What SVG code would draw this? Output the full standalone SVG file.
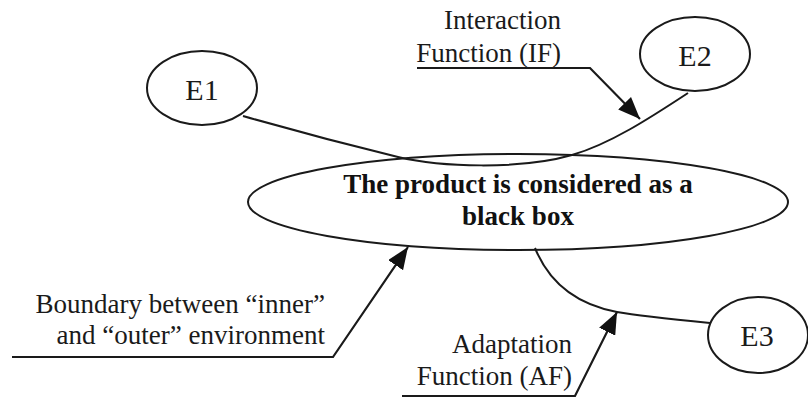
<svg xmlns="http://www.w3.org/2000/svg" width="808" height="402" viewBox="0 0 808 402">
  <defs>
    <style>
      .shape { fill: none; stroke: #1a1a1a; stroke-width: 2; }
      .node { fill: #ffffff; stroke: #1a1a1a; stroke-width: 2; }
      .lbl { font-family: "Times New Roman", "Liberation Serif", Tinos, serif; font-size: 27px; fill: #1a1a1a; }
      .ent { font-family: "Times New Roman", "Liberation Serif", Tinos, serif; font-size: 30px; fill: #1a1a1a; text-anchor: middle; }
      .bold { font-family: "Times New Roman", "Liberation Serif", Tinos, serif; font-size: 27px; font-weight: bold; fill: #111; text-anchor: middle; }
      .leader { fill: none; stroke: #1a1a1a; stroke-width: 2.2; }
    </style>
    <marker id="arrow" markerUnits="userSpaceOnUse" markerWidth="24" markerHeight="18" refX="22" refY="9" orient="auto">
      <path d="M0,0 L22,9 L0,18 z" fill="#111"/>
    </marker>
  </defs>
  <rect width="808" height="402" fill="#ffffff"/>

  <g id="product">
    <ellipse class="shape" cx="518" cy="202" rx="270" ry="48"/>
    <text class="bold" x="518" y="193">The product is considered as a</text>
    <text class="bold" x="518" y="225">black box</text>
  </g>

  <g id="connectors">
    <path class="shape" d="M243,116 Q320,138 398,157 C440,167 520,170 572,155 C610,144 650,118 688,93"/>
    <path class="shape" d="M535,248 C550,285 580,305 617,312 C640,316 680,320 710,323"/>
    <path class="leader" d="M417,68 L590,68 L640,119" marker-end="url(#arrow)"/>
    <path class="leader" d="M12,357 L333,357 L408,247" marker-end="url(#arrow)"/>
    <path class="leader" d="M402,396 L575,396 L617,312" marker-end="url(#arrow)"/>
  </g>

  <g id="E1">
    <ellipse class="node" cx="202" cy="88" rx="55" ry="37"/>
    <text class="ent" x="202" y="100">E1</text>
  </g>
  <g id="E2">
    <ellipse class="node" cx="695" cy="54" rx="55" ry="37"/>
    <text class="ent" x="695" y="66">E2</text>
  </g>
  <g id="E3">
    <ellipse class="node" cx="758" cy="335" rx="50" ry="38"/>
    <text class="ent" x="757" y="346">E3</text>
  </g>

  <g id="label-IF">
    <text class="lbl" x="561" y="29" text-anchor="end">Interaction</text>
    <text class="lbl" x="561" y="62" text-anchor="end">Function (IF)</text>
  </g>
  <g id="label-boundary">
    <text class="lbl" x="325" y="313" text-anchor="end">Boundary between “inner”</text>
    <text class="lbl" x="325" y="344" text-anchor="end">and “outer” environment</text>
  </g>
  <g id="label-AF">
    <text class="lbl" x="572" y="353" text-anchor="end">Adaptation</text>
    <text class="lbl" x="572" y="385" text-anchor="end">Function (AF)</text>
  </g>
</svg>
